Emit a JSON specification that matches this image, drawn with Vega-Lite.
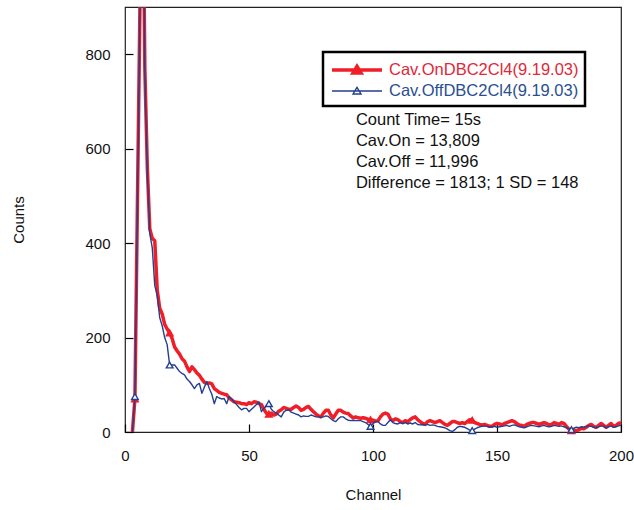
{
  "$schema": "https://vega.github.io/schema/vega-lite/v6.json",
  "width": 496,
  "height": 425,
  "autosize": "none",
  "padding": {"left": 125, "top": 7, "right": 13, "bottom": 78},
  "background": "white",
  "config": {
    "font": "Liberation Sans",
    "view": {"stroke": "#222", "strokeWidth": 1.2},
    "axis": {"grid": false, "labelColor": "#111", "titleColor": "#111", "labelFontSize": 15, "titleFontSize": 15, "titleFontWeight": "normal", "labelFlush": false, "labelOverlap": false},
    "legend": {"strokeWidth": 2.5}
  },
  "resolve": {"legend": {"stroke": "independent", "fill": "independent", "strokeWidth": "independent", "shape": "independent"}},
  "datasets": {
    "spec": [
      {"ch":3,"on":0,"off":0},{"ch":4,"on":70,"off":75},{"ch":7,"on":1300,"off":1280},{"ch":8,"on":770,"off":760},{"ch":9,"on":560,"off":550},{"ch":10,"on":430,"off":420},{"ch":11,"on":410,"off":390},{"ch":12,"on":405,"off":310},{"ch":13,"on":300,"off":290},{"ch":14,"on":262,"off":242},{"ch":15,"on":250,"off":225},{"ch":16,"on":228,"off":200},{"ch":17,"on":218,"off":185},{"ch":18,"on":210,"off":142},{"ch":19,"on":198,"off":142},{"ch":20,"on":180,"off":142},{"ch":21,"on":172,"off":135},{"ch":22,"on":165,"off":128},{"ch":23,"on":155,"off":124},{"ch":24,"on":150,"off":121},{"ch":25,"on":138,"off":112},{"ch":26,"on":128,"off":107},{"ch":27,"on":138,"off":100},{"ch":28,"on":132,"off":92},{"ch":29,"on":125,"off":100},{"ch":30,"on":120,"off":103},{"ch":31,"on":112,"off":82},{"ch":32,"on":105,"off":95},{"ch":33,"on":103,"off":107},{"ch":34,"on":104,"off":92},{"ch":35,"on":102,"off":80},{"ch":36,"on":92,"off":60},{"ch":37,"on":88,"off":75},{"ch":38,"on":84,"off":72},{"ch":39,"on":82,"off":70},{"ch":40,"on":80,"off":71},{"ch":41,"on":79,"off":60},{"ch":42,"on":72,"off":75},{"ch":43,"on":68,"off":70},{"ch":44,"on":64,"off":64},{"ch":45,"on":63,"off":58},{"ch":46,"on":62,"off":52},{"ch":47,"on":60,"off":47},{"ch":48,"on":60,"off":50},{"ch":49,"on":58,"off":50},{"ch":50,"on":62,"off":43},{"ch":51,"on":60,"off":48},{"ch":52,"on":64,"off":53},{"ch":53,"on":63,"off":58},{"ch":54,"on":60,"off":64},{"ch":55,"on":58,"off":43},{"ch":56,"on":48,"off":50},{"ch":57,"on":40,"off":55},{"ch":58,"on":38,"off":60},{"ch":59,"on":40,"off":48},{"ch":60,"on":36,"off":43},{"ch":61,"on":38,"off":40},{"ch":62,"on":44,"off":36},{"ch":63,"on":47,"off":32},
      {"ch":64,"on":52,"off":42},{"ch":65,"on":50,"off":46},{"ch":66,"on":48,"off":47},{"ch":67,"on":48,"off":42},{"ch":68,"on":52,"off":40},{"ch":69,"on":55,"off":38},{"ch":70,"on":52,"off":36},{"ch":71,"on":46,"off":32},{"ch":72,"on":48,"off":34},{"ch":73,"on":52,"off":33},{"ch":74,"on":54,"off":33},{"ch":75,"on":48,"off":36},{"ch":76,"on":43,"off":34},{"ch":77,"on":38,"off":32},{"ch":78,"on":34,"off":32},{"ch":79,"on":32,"off":31},{"ch":80,"on":40,"off":32},{"ch":81,"on":46,"off":34},{"ch":82,"on":46,"off":33},{"ch":83,"on":36,"off":28},{"ch":84,"on":30,"off":24},{"ch":85,"on":38,"off":22},{"ch":86,"on":46,"off":28},{"ch":87,"on":46,"off":32},{"ch":88,"on":42,"off":32},{"ch":89,"on":40,"off":28},{"ch":90,"on":39,"off":25},{"ch":91,"on":34,"off":24},{"ch":92,"on":30,"off":25},{"ch":93,"on":32,"off":24},{"ch":94,"on":30,"off":24},{"ch":95,"on":29,"off":24},{"ch":96,"on":30,"off":22},{"ch":97,"on":29,"off":20},{"ch":98,"on":27,"off":16},{"ch":99,"on":26,"off":12},{"ch":100,"on":25,"off":18},{"ch":101,"on":23,"off":22},{"ch":102,"on":24,"off":22},{"ch":103,"on":32,"off":17},{"ch":104,"on":38,"off":14},{"ch":105,"on":40,"off":14},{"ch":106,"on":38,"off":20},{"ch":107,"on":28,"off":26},
      {"ch":108,"on":24,"off":20},{"ch":109,"on":28,"off":18},{"ch":110,"on":26,"off":17},{"ch":111,"on":22,"off":20},{"ch":112,"on":20,"off":18},{"ch":113,"on":24,"off":20},{"ch":114,"on":22,"off":17},{"ch":115,"on":26,"off":19},{"ch":116,"on":30,"off":17},{"ch":117,"on":32,"off":20},{"ch":118,"on":26,"off":16},{"ch":119,"on":22,"off":15},{"ch":120,"on":18,"off":16},{"ch":121,"on":16,"off":15},{"ch":122,"on":22,"off":16},{"ch":123,"on":24,"off":14},{"ch":124,"on":22,"off":15},{"ch":125,"on":20,"off":14},{"ch":126,"on":22,"off":12},{"ch":127,"on":24,"off":11},{"ch":128,"on":20,"off":10},{"ch":129,"on":16,"off":9},{"ch":130,"on":14,"off":6},{"ch":131,"on":18,"off":3},{"ch":132,"on":22,"off":1},{"ch":133,"on":22,"off":5},{"ch":134,"on":20,"off":10},{"ch":135,"on":18,"off":12},{"ch":136,"on":20,"off":11},{"ch":137,"on":18,"off":10},{"ch":138,"on":22,"off":7},{"ch":139,"on":26,"off":4},{"ch":140,"on":25,"off":3},{"ch":141,"on":20,"off":6},{"ch":142,"on":18,"off":9},{"ch":143,"on":16,"off":11},{"ch":144,"on":15,"off":12},{"ch":145,"on":16,"off":13},{"ch":146,"on":14,"off":12},{"ch":147,"on":12,"off":10},{"ch":148,"on":12,"off":11},{"ch":149,"on":16,"off":12},{"ch":150,"on":18,"off":10},{"ch":151,"on":17,"off":11},{"ch":152,"on":15,"off":12},{"ch":153,"on":18,"off":13},{"ch":154,"on":20,"off":14},{"ch":155,"on":22,"off":12},{"ch":156,"on":24,"off":14},{"ch":157,"on":22,"off":15},{"ch":158,"on":18,"off":13},{"ch":159,"on":15,"off":11},{"ch":160,"on":14,"off":10},{"ch":161,"on":12,"off":9},{"ch":162,"on":16,"off":11},{"ch":163,"on":18,"off":13},{"ch":164,"on":20,"off":14},{"ch":165,"on":20,"off":13},{"ch":166,"on":18,"off":12},{"ch":167,"on":16,"off":11},{"ch":168,"on":18,"off":13},{"ch":169,"on":20,"off":14},{"ch":170,"on":18,"off":12},{"ch":171,"on":15,"off":11},{"ch":172,"on":16,"off":12},{"ch":173,"on":20,"off":14},{"ch":174,"on":18,"off":13},{"ch":175,"on":16,"off":12},{"ch":176,"on":20,"off":13},{"ch":177,"on":18,"off":11},{"ch":178,"on":12,"off":9},{"ch":179,"on":6,"off":7},{"ch":180,"on":3,"off":5},{"ch":181,"on":4,"off":8},{"ch":182,"on":2,"off":10},{"ch":183,"on":5,"off":9},{"ch":184,"on":8,"off":11},{"ch":185,"on":7,"off":10},{"ch":186,"on":10,"off":12},{"ch":187,"on":14,"off":13},{"ch":188,"on":16,"off":12},{"ch":189,"on":12,"off":10},{"ch":190,"on":10,"off":9},{"ch":191,"on":14,"off":11},{"ch":192,"on":18,"off":13},{"ch":193,"on":14,"off":12},{"ch":194,"on":10,"off":9},{"ch":195,"on":14,"off":11},{"ch":196,"on":18,"off":13},{"ch":197,"on":12,"off":10},{"ch":198,"on":14,"off":11},{"ch":199,"on":18,"off":13},{"ch":200,"on":20,"off":14}
    ],
    "notes": [
      {"ch": 93.1, "counts": 661, "note": "Count Time= 15s"},
      {"ch": 93.1, "counts": 617, "note": "Cav.On = 13,809"},
      {"ch": 93.1, "counts": 572, "note": "Cav.Off = 11,996"},
      {"ch": 93.1, "counts": 527, "note": "Difference = 1813; 1 SD = 148"}
    ]
  },
  "encoding": {
    "x": {"field": "ch", "type": "quantitative", "title": "Channel", "scale": {"domain": [0, 200], "nice": false, "zero": false},
      "axis": {"values": [0, 50, 100, 150, 200], "domain": false, "ticks": true, "tickSize": 8, "tickWidth": 1.2, "tickColor": "#000", "offset": -8, "labelPadding": 16, "titlePadding": 24}},
    "y": {"field": "counts", "type": "quantitative", "title": "Counts", "scale": {"domain": [0, 900], "nice": false},
      "axis": {"values": [0, 200, 400, 600, 800], "domain": false, "ticks": true, "tickSize": 8, "tickWidth": 1.2, "tickColor": "#000", "offset": -8, "labelPadding": 15, "titlePadding": 58}}
  },
  "layer": [
    {
      "data": {"name": "spec"},
      "transform": [{"fold": ["on", "off"], "as": ["series", "counts"]}, {"filter": "datum.series == 'on'"}],
      "mark": {"type": "line", "clip": true, "strokeJoin": "round"},
      "encoding": {
        "stroke": {"field": "series", "type": "nominal", "scale": {"domain": ["on", "off"], "range": ["#f01e28", "#23408e"]}, "legend": null},
        "strokeWidth": {"field": "series", "type": "nominal", "scale": {"domain": ["on", "off"], "range": [3.5, 1.4]}, "legend": null}
      }
    },
    {
      "data": {"name": "spec"},
      "transform": [{"fold": ["on", "off"], "as": ["series", "counts"]}, {"filter": "datum.series == 'on'"}, {"filter": {"field": "ch", "oneOf": [4, 18, 58, 99, 140, 180]}}],
      "mark": {"type": "point", "shape": "triangle-up", "size": 45, "strokeWidth": 1.4, "opacity": 1},
      "encoding": {
        "stroke": {"field": "series", "type": "nominal", "scale": {"domain": ["on", "off"], "range": ["#f01e28", "#23408e"]}, "legend": null},
        "fill": {"field": "series", "type": "nominal", "scale": {"domain": ["on", "off"], "range": ["#f01e28", "#ffffff"]}, "legend": null}
      }
    },
    {
      "data": {"name": "spec"},
      "transform": [{"fold": ["on", "off"], "as": ["series", "counts"]}, {"filter": "datum.series == 'off'"}],
      "mark": {"type": "line", "clip": true, "strokeJoin": "round"},
      "encoding": {
        "stroke": {"field": "series", "type": "nominal", "scale": {"domain": ["on", "off"], "range": ["#f01e28", "#23408e"]}, "legend": null},
        "strokeWidth": {"field": "series", "type": "nominal", "scale": {"domain": ["on", "off"], "range": [3.5, 1.4]}, "legend": null}
      }
    },
    {
      "data": {"name": "spec"},
      "transform": [{"fold": ["on", "off"], "as": ["series", "counts"]}, {"filter": "datum.series == 'off'"}, {"filter": {"field": "ch", "oneOf": [4, 18, 58, 99, 140, 180]}}],
      "mark": {"type": "point", "shape": "triangle-up", "size": 45, "strokeWidth": 1.4, "opacity": 1},
      "encoding": {
        "stroke": {"field": "series", "type": "nominal", "scale": {"domain": ["on", "off"], "range": ["#f01e28", "#23408e"]}, "legend": null},
        "fill": {"field": "series", "type": "nominal", "scale": {"domain": ["on", "off"], "range": ["#f01e28", "#ffffff"]}, "legend": null}
      }
    },
    {
      "data": {"name": "spec"},
      "transform": [{"fold": ["on", "off"], "as": ["series", "counts"]}, {"filter": {"field": "ch", "oneOf": [4]}}],
      "mark": {"type": "point", "size": 400, "opacity": 0},
      "encoding": {
        "stroke": {"field": "series", "type": "nominal", "scale": {"domain": ["on", "off"], "range": ["#f01e28", "#23408e"]},
          "legend": {"title": null, "orient": "none", "legendX": 198, "legendY": 45, "padding": 6, "strokeColor": "#000", "fillColor": "#ffffff", "rowPadding": 0, "labelFontSize": 16.5, "labelFont": "Liberation Sans", "symbolSize": 400, "symbolOpacity": 1, "symbolOffset": 20, "labelOffset": 16, "labelLimit": 400,
            "labelExpr": "datum.value == 'on' ? 'Cav.OnDBC2Cl4(9.19.03)' : 'Cav.OffDBC2Cl4(9.19.03)'",
            "labelColor": {"expr": "datum.value == 'on' ? '#e0283a' : '#2a4f8f'"}}},
        "fill": {"field": "series", "type": "nominal", "scale": {"domain": ["on", "off"], "range": ["#f01e28", "#ffffff"]}},
        "strokeWidth": {"field": "series", "type": "nominal", "scale": {"domain": ["on", "off"], "range": [3.5, 1.4]}},
        "shape": {"field": "series", "type": "nominal", "scale": {"domain": ["on", "off"], "range": ["M-2.9,0L2.1,0M-0.8,0.3L-0.4,-0.36L0,0.3Z", "M-2.9,0L2.1,0M-0.8,0.3L-0.4,-0.36L0,0.3Z"]}}
      }
    },
    {
      "data": {"name": "notes"},
      "mark": {"type": "text", "align": "left", "baseline": "middle", "fontSize": 16.5, "color": "#111", "font": "Liberation Sans"},
      "encoding": {"text": {"field": "note"}}
    }
  ]
}
